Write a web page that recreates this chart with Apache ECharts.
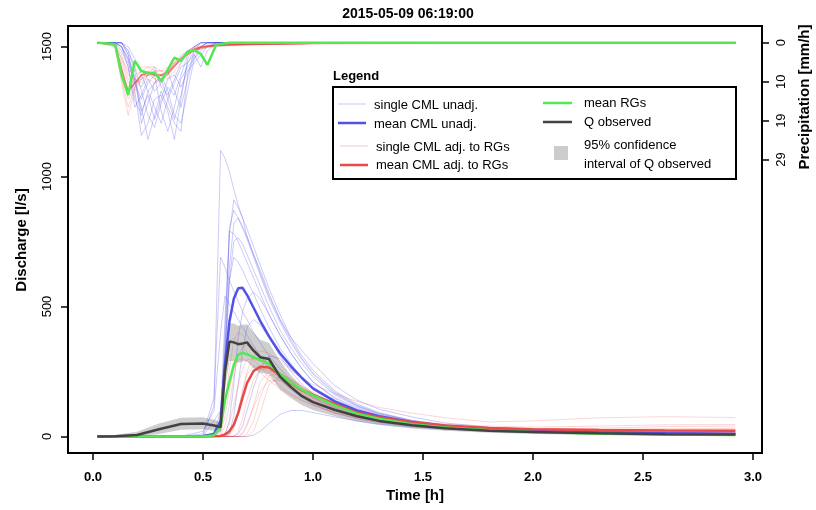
<!DOCTYPE html>
<html><head><meta charset="utf-8">
<script src="https://cdn.jsdelivr.net/npm/echarts@6/dist/echarts.min.js"></script>
<style>html,body{margin:0;padding:0;background:#fff}#c{width:816px;height:510px}</style>
</head><body><div id="c"></div>
<script>
// ---------- data ----------
const titleText = '2015-05-09 06:19:00';
const xTicks = [0, 0.5, 1.0, 1.5, 2.0, 2.5, 3.0];
const qTicks = [0, 500, 1000, 1500];
const pTicks = [0, 29/3, 58/3, 29];

// discharge time grid [h]
const T = [0.02,0.1,0.2,0.3,0.4,0.5,0.55,0.58,0.6,0.62,0.64,0.66,0.68,0.7,0.73,0.76,0.8,0.85,0.9,0.95,1.0,1.1,1.2,1.3,1.45,1.6,1.8,2.0,2.3,2.6,2.92];

// single CML unadjusted discharge [l/s]
const cmlUnadj = [
 [0,0,0,0,0,3,120,1100,1070,1020,950,890,840,770,700,640,550,450,380,330,280,195,140,105,75,52,36,27,20,16,14],
 [0,0,0,0,0,0,5,50,400,780,910,880,840,800,730,660,570,470,380,310,255,175,125,92,62,45,32,24,18,14,12],
 [0,0,0,0,0,0,10,100,300,800,870,840,800,760,690,620,530,440,360,295,240,165,118,88,60,43,31,23,17,13,11],
 [0,0,0,0,0,0,2,30,300,650,820,840,810,770,700,630,540,450,370,300,245,170,120,89,61,44,31,23,17,14,12],
 [0,0,0,0,0,2,60,100,450,790,780,750,710,670,610,550,470,390,320,260,210,150,110,82,57,41,29,22,16,13,11],
 [0,0,0,0,0,0,5,50,350,600,750,765,740,700,640,580,500,410,340,280,230,160,115,85,58,42,30,22,16,13,11],
 [0,0,0,0,0,10,150,690,650,600,560,520,480,450,400,360,310,260,215,180,150,110,82,62,45,35,26,20,15,12,10],
 [0,0,0,0,0,0,3,20,250,600,690,670,640,600,550,490,420,340,280,225,185,130,95,72,50,37,27,20,15,12,10],
 [0,0,0,0,0,0,0,2,10,60,200,380,480,530,555,530,470,390,320,260,210,145,105,80,56,41,30,22,16,13,11],
 [0,0,0,0,0,0,0,0,2,10,80,200,330,420,450,430,380,310,250,200,165,118,88,67,48,36,26,20,15,12,10],
 [0,0,0,0,0,0,0,0,0,0,2,10,40,100,190,260,310,300,260,220,180,130,97,74,53,40,29,22,16,13,11],
 [0,0,0,0,0,0,0,0,0,0,0,0,0,0,5,20,50,85,100,100,92,75,60,48,36,28,20,15,11,9,8],
 [0,0,0,0,1,20,100,400,540,510,480,450,420,390,350,310,265,220,180,150,125,90,68,53,39,30,22,17,13,10,9]
];
// single CML adjusted to RGs discharge [l/s]
const cmlAdj = [
 [0,0,0,0,0,0,0,20,120,260,370,400,390,370,340,310,270,230,195,165,140,105,80,62,45,36,28,23,19,17,16],
 [0,0,0,0,0,0,0,0,0,10,40,100,180,250,310,330,320,290,255,225,200,165,135,112,90,72,56,60,72,76,73],
 [0,0,0,0,0,0,0,5,40,120,230,310,345,350,335,310,275,235,200,170,145,108,82,64,47,37,29,24,21,20,20],
 [0,0,0,0,0,0,0,0,10,50,120,200,260,295,300,290,265,230,200,172,148,112,86,67,50,40,32,27,25,26,28],
 [0,0,0,0,0,0,0,0,0,0,0,0,10,40,120,210,250,245,220,190,165,125,96,75,55,43,34,29,32,38,40],
 [0,0,0,0,0,0,0,0,0,0,0,0,0,10,60,150,235,240,220,195,170,128,98,76,56,44,35,30,28,30,32],
 [0,0,0,0,0,0,0,0,0,5,30,90,170,240,270,265,245,215,185,160,138,104,80,62,46,36,28,23,20,18,18],
 [0,0,0,0,0,0,0,0,0,0,0,0,0,0,20,90,200,230,215,190,165,125,95,74,55,43,34,28,25,24,24],
 [0,0,0,0,0,0,0,60,250,360,380,365,345,325,295,265,230,195,165,140,120,90,70,55,40,32,25,20,17,15,14],
 [0,0,0,0,0,0,0,0,0,0,0,20,70,140,220,258,255,230,200,175,152,115,88,68,50,40,32,27,24,23,23],
 [0,0,0,0,0,0,0,0,0,0,0,0,15,50,110,175,215,215,200,180,160,126,100,80,60,48,40,36,40,45,46],
 [0,0,0,0,0,0,0,10,80,180,260,295,300,290,270,245,215,185,160,138,120,92,72,57,43,34,27,22,19,17,16]
];
const meanUnadj = [0,0,0,0,0,2,10,60,280,440,530,570,572,545,495,445,385,320,270,225,185,135,100,78,55,40,28,21,15,12,10];
const meanAdj   = [0,0,0,0,0,0,1,2,8,20,45,90,150,205,252,268,265,240,205,178,160,125,92,74,55,42,33,28,25,23,22];
const meanRG    = [0,0,0,0,0,0,5,35,140,210,275,315,322,316,305,294,280,240,206,180,158,120,88,68,47,35,24,17,11,8,6];
const qObs      = [0,1,6,28,48,50,42,36,250,365,362,355,358,362,330,305,298,230,190,155,132,102,78,60,43,32,22,17,12,9,8];
const qHigh     = [3,6,18,50,72,74,64,56,320,435,435,425,430,432,400,372,360,290,235,192,165,128,99,77,56,43,31,24,18,14,12];
const qLow      = [0,0,0,10,26,28,22,18,180,290,290,285,288,290,262,245,240,180,148,120,102,78,58,44,31,22,14,10,6,4,3];

// precipitation time grid [h] and intensities [mm/h]
const Tp = [0.02,0.1,0.13,0.16,0.19,0.22,0.25,0.28,0.31,0.34,0.37,0.40,0.43,0.46,0.49,0.52,0.56,0.62,0.7,0.85,1.0,2.92];
const rainUnadj = [
 [0,0,1,4,12,23,20,14,13,17,24,14,4,1,0,0,0,0,0,0,0,0],
 [0,0,0,3,9,16,24,18,12,16,20,22,8,2,0,0,0,0,0,0,0,0],
 [0,0,2,6,14,18,12,16,20,14,10,6,5,3,1,0,0,0,0,0,0,0],
 [0,0,0,2,6,12,18,21,15,11,13,8,3,1,0,0,0,0,0,0,0,0],
 [0,0,1,5,10,14,10,8,17,22,16,9,6,4,2,1,0,0,0,0,0,0],
 [0,0,0,2,7,20,15,10,8,12,18,20,12,4,1,0,0,0,0,0,0,0],
 [0,0,1,4,9,11,8,6,11,13,9,5,2,1,0,0,0,0,0,0,0,0],
 [0,0,0,3,10,17,13,19,14,9,8,11,7,5,3,1,0,0,0,0,0,0],
 [0,0,0,1,4,8,12,10,9,14,19,13,5,2,1,0,0,0,0,0,0,0],
 [0,0,1,6,16,13,9,12,10,7,12,16,9,3,6,2,0,0,0,0,0,0]
];
const rainAdj = [
 [0,0.5,6,14,11,8,8,9,8,8,6,4,2.5,1.5,1,0.8,0.6,0.5,0.4,0.3,0.2,0],
 [0,1,10,18,12,9,7,8,9,7,5,3.5,2,1.2,1,0.8,0.7,0.6,0.5,0.4,0.2,0],
 [0,0.3,4,9,10,9,8,7,8,9,7,5,3,2,1.5,1,0.8,0.6,0.5,0.3,0.2,0],
 [0,0.5,7,12,9,7,9,10,8,7,6,4,3,2,1.2,1,0.7,0.5,0.4,0.3,0.1,0],
 [0,0.2,3,8,9,10,8,7,7,8,6,4.5,3,2,1.5,1,0.7,0.5,0.5,0.4,0.2,0],
 [0,0.8,9,16,11,8,7,9,10,8,5,3,2,1,0.8,0.6,0.5,0.4,0.3,0.2,0.1,0],
 [0,0.4,5,10,8,7,6,7,7,6,5,3.5,2.5,1.8,1.2,1,0.8,0.6,0.5,0.3,0.2,0],
 [0,0.6,8,13,10,8,8,8,9,8,6,4,2.5,1.5,1,0.8,0.6,0.5,0.4,0.3,0.2,0],
 [0,0.3,4,7,7,6,6,6,7,7,5,4,2.5,1.5,1,0.8,0.6,0.4,0.3,0.2,0.1,0],
 [0,0.7,8,12,10,9,8,8,8,7,5.5,4,3,2,1.5,1.2,1,0.8,0.6,0.4,0.2,0]
];
const rainAdjMean = [0,0.5,6.5,12,10,8,7.5,8,8,7.5,5.7,4,2.6,1.7,1.2,0.9,0.7,0.5,0.4,0.3,0.2,0];
const rainRG      = [0,0.3,8,13,4.5,7,7.5,7.5,9.5,6.7,3.7,4.5,2.3,1.8,2.8,5.5,0.5,0,0,0,0,0];

const legendLabels = ['single CML unadj.','mean CML unadj.','single CML adj. to RGs','mean CML adj. to RGs','mean RGs','Q observed','95% confidence','interval of Q observed'];

// ---------- styles ----------
const FONT = "'Liberation Sans', Arial, Helvetica, sans-serif";
const C = {
  thinBlue: 'rgba(70,70,230,0.28)', thinRed: 'rgba(235,70,70,0.22)',
  blue: '#5252e8', red: '#e84a4a', green: '#52e852', black: '#424242', band: 'rgba(185,185,185,0.7)'
};
const pair = (ts, vs) => ts.map((t, i) => [t, vs[i]]);
function line(name, ts, vs, color, width, yAxisIndex) {
  return { name, type: 'line', data: pair(ts, vs), yAxisIndex: yAxisIndex || 0,
    showSymbol: false, symbol: 'none', silent: true,
    lineStyle: { color, width }, itemStyle: { color } };
}

const series = [];
// 95% confidence band of Q observed, drawn through the chart's own scales
series.push({ name: '95% CI', type: 'custom', coordinateSystem: 'cartesian2d', xAxisIndex: 0, yAxisIndex: 0,
  silent: true, clip: true, data: [[T[0], qLow[0]]],
  renderItem: (params, api) => {
    const up = T.map((t, i) => api.coord([t, qHigh[i]]));
    const dn = T.map((t, i) => api.coord([t, qLow[i]])).reverse();
    return { type: 'polygon', shape: { points: up.concat(dn) }, style: { fill: C.band } };
  } });
// precipitation
rainUnadj.forEach((r, i) => series.push(line('pu' + i, Tp, r, C.thinBlue, 1, 1)));
rainAdj.forEach((r, i) => series.push(line('pa' + i, Tp, r, C.thinRed, 1, 1)));
series.push(line('paMean', Tp, rainAdjMean, 'rgba(225,60,60,0.6)', 1.5, 1));
series.push(line('pRG', Tp, rainRG, C.green, 2.5, 1));
// discharge
cmlUnadj.forEach((r, i) => series.push(line('qu' + i, T, r, C.thinBlue, 1, 0)));
cmlAdj.forEach((r, i) => series.push(line('qa' + i, T, r, C.thinRed, 1, 0)));
series.push(line('mean CML unadj.', T, meanUnadj, C.blue, 2.5, 0));
series.push(line('mean CML adj. to RGs', T, meanAdj, C.red, 2.5, 0));
series.push(line('mean RGs', T, meanRG, C.green, 2.5, 0));
series.push(line('Q observed', T, qObs, C.black, 2.5, 0));

const tickStyle = { show: true, inside: false, length: 7, lineStyle: { color: '#000', width: 1.5 } };
const lbl = { color: '#000', fontFamily: FONT, fontSize: 13 };

// legend graphics
const LX = 333, LY = 87;
function gLine(x1, y, x2, color, w) { return { type: 'line', shape: { x1, y1: y, x2, y2: y }, style: { stroke: color, lineWidth: w }, silent: true }; }
function gText(x, y, text, extra) { return { type: 'text', x, y, silent: true,
  style: Object.assign({ text, fill: '#000', font: '13px ' + FONT, align: 'left', verticalAlign: 'middle', textAlign: 'left', textVerticalAlign: 'middle' }, extra || {}) }; }

const graphic = [
  gText(333, 76, 'Legend', { font: 'bold 13px ' + FONT }),
  { type: 'rect', shape: { x: LX, y: LY, width: 403, height: 92 }, style: { fill: '#fff', stroke: '#000', lineWidth: 2 }, silent: true },
  gLine(338, 104, 366, 'rgba(70,70,230,0.3)', 1), gText(374, 105, legendLabels[0]),
  gLine(338, 123, 366, C.blue, 2.5), gText(374, 124, legendLabels[1]),
  gLine(340, 146, 368, 'rgba(235,70,70,0.3)', 1), gText(376, 147, legendLabels[2]),
  gLine(340, 165, 368, C.red, 2.5), gText(376, 165, legendLabels[3]),
  gLine(543, 103, 572, C.green, 2.5), gText(584, 103, legendLabels[4]),
  gLine(543, 122, 572, C.black, 2.5), gText(584, 122, legendLabels[5]),
  { type: 'rect', shape: { x: 554, y: 146, width: 14, height: 14 }, style: { fill: '#cccccc' }, silent: true },
  gText(584, 145, legendLabels[6]), gText(584, 164, legendLabels[7]),
  // axis titles
  gText(415, 496, 'Time [h]', { font: 'bold 15px ' + FONT, align: 'center', textAlign: 'center' }),
  Object.assign(gText(0, 0, 'Discharge [l/s]', { font: 'bold 15px ' + FONT, align: 'center', textAlign: 'center' }), { x: 22, y: 240, rotation: Math.PI / 2 }),
  Object.assign(gText(0, 0, 'Precipitation [mm/h]', { font: 'bold 15px ' + FONT, align: 'center', textAlign: 'center' }), { x: 805, y: 97, rotation: Math.PI / 2 })
];

const chart = echarts.init(document.getElementById('c'), null, { renderer: 'canvas' });
chart.setOption({
  animation: false,
  backgroundColor: '#fff',
  title: { text: titleText, left: 'center', top: 2, textStyle: { fontFamily: FONT, fontSize: 14, fontWeight: 'bold', color: '#000' } },
  grid: { left: 68, right: 54, top: 26, bottom: 57, show: true, borderColor: '#000', borderWidth: 2, backgroundColor: 'transparent' },
  xAxis: { type: 'value', min: -0.1136, max: 3.041, position: 'bottom',
    axisLine: { show: false, onZero: false }, splitLine: { show: false },
    axisTick: Object.assign({ customValues: xTicks }, tickStyle),
    axisLabel: Object.assign({ customValues: xTicks, margin: 18, fontWeight: 'bold', formatter: v => v.toFixed(1) }, lbl) },
  yAxis: [
    { type: 'value', min: -63.5, max: 1579, position: 'left',
      axisLine: { show: false, onZero: false }, splitLine: { show: false },
      axisTick: Object.assign({ customValues: qTicks }, tickStyle),
      axisLabel: Object.assign({ customValues: qTicks, rotate: 90, margin: 14, formatter: v => String(Math.round(v)) }, lbl) },
    { type: 'value', min: -4.15, max: 101.8, inverse: true, position: 'right',
      axisLine: { show: false, onZero: false }, splitLine: { show: false },
      axisTick: Object.assign({ customValues: pTicks }, tickStyle),
      axisLabel: Object.assign({ customValues: pTicks, rotate: 90, margin: 13, formatter: v => String(Math.round(v)) }, lbl) }
  ],
  series,
  graphic
});
</script></body></html>
